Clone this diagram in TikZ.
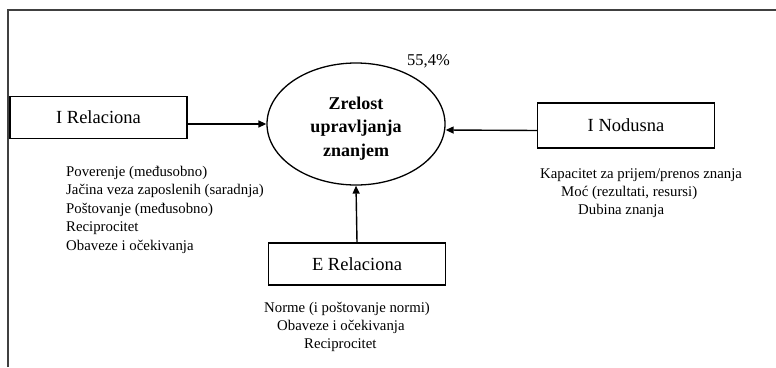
\documentclass[tikz,border=0pt]{standalone}
\usepackage{fontspec}
\setmainfont{Liberation Serif}
\usetikzlibrary{shapes.geometric,arrows.meta}
\begin{document}
\begin{tikzpicture}[x=1pt,y=-1pt,
  box/.style={draw,line width=1.3pt,minimum width=177pt,minimum height=42pt,
    inner sep=0pt,font=\fontsize{18.5}{21}\selectfont},
  item/.style={anchor=base west,inner sep=0pt,font=\fontsize{14.8}{17}\selectfont},
  arr/.style={line width=1.4pt,-{Triangle[length=8pt,width=7pt]}},
  frame/.style={line width=1.6pt,draw=black!75}]
\useasboundingbox (0,0) rectangle (776,367);
% outer frame (left and top edges)
\draw[frame] (8,367) -- (8,10) -- (776,10);

% central concept
\node[draw,ellipse,line width=1.3pt,minimum width=178pt,minimum height=122pt,
  inner sep=0pt] (ell) at (356,124) {};
\node[inner sep=0pt,align=center,font=\bfseries\fontsize{18}{23.5}\selectfont]
  (elltext) at ([yshift=-4.5pt]ell.center) {Zrelost\\upravljanja\\znanjem};
\node[anchor=base,inner sep=0pt,font=\fontsize{16.5}{18}\selectfont] (pct)
  at (428.5,65) {55,4\%};

% dimensions
\node[box,minimum height=41.5pt] (irel) at (98.5,117.5) {I Relaciona};
\node[box,minimum height=45pt] (inod) at (626,125.5) {I Nodusna};
\node[box] (erel) at (357,264) {E Relaciona};

% arrows into the central concept
\draw[arr] (irel.east |- ell.west) -- (ell.west);
\draw[arr] ([yshift=-5pt]inod.west) -- ([yshift=-6pt]ell.east);
\draw[arr] (erel.north) -- (ell.south);

% indicators of I Relaciona
\node[item] (a1) at (66,176) {Poverenje (međusobno)};
\node[item] (a2) at (66,194.5) {Jačina veza zaposlenih (saradnja)};
\node[item] (a3) at (66,213) {Poštovanje (međusobno)};
\node[item] (a4) at (66,231.5) {Reciprocitet};
\node[item] (a5) at (66,250) {Obaveze i očekivanja};

% indicators of I Nodusna
\node[item] (b1) at (540,178) {Kapacitet za prijem/prenos znanja};
\node[item] (b2) at (561,196) {Moć (rezultati, resursi)};
\node[item] (b3) at (578,214) {Dubina znanja};

% indicators of E Relaciona
\node[item] (c1) at (264,312.5) {Norme (i poštovanje normi)};
\node[item] (c2) at (277,330.5) {Obaveze i očekivanja};
\node[item] (c3) at (304,348.5) {Reciprocitet};
\end{tikzpicture}
\end{document}
